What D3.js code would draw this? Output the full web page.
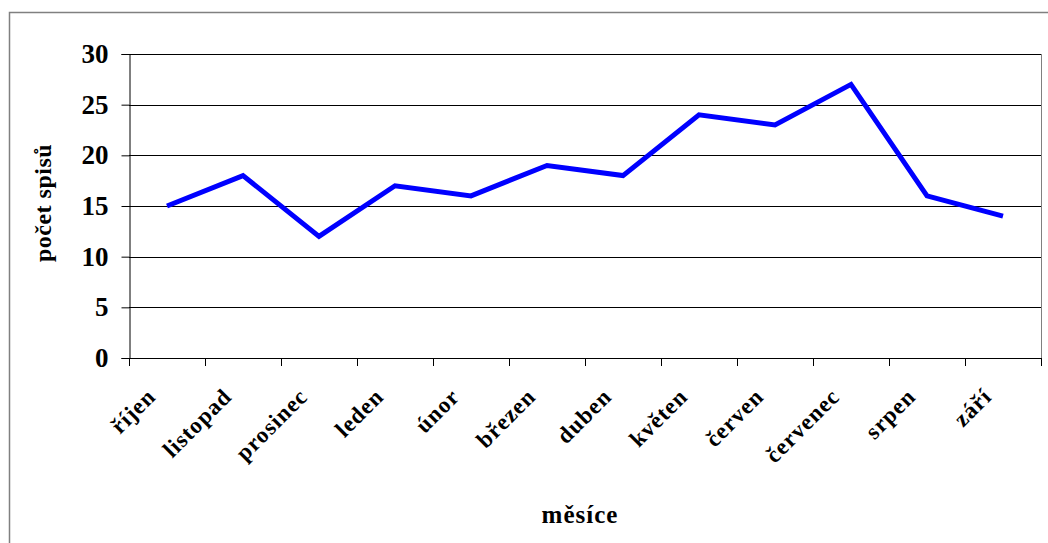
<!DOCTYPE html>
<html>
<head>
<meta charset="utf-8">
<script src="https://cdn.jsdelivr.net/npm/d3@7"></script>
<style>
  html, body { margin: 0; padding: 0; background: #fff; }
  svg { display: block; }
  text { font-family: "Liberation Serif", "Times New Roman", serif; font-weight: bold; fill: #000; }
</style>
</head>
<body>
<script>
// Monthly counts of case files
const months = ["říjen", "listopad", "prosinec", "leden", "únor", "březen",
                "duben", "květen", "červen", "červenec", "srpen", "září"];
const counts = [15, 18, 12, 17, 16, 19, 18, 24, 23, 27, 16, 14];
const yTicks = [0, 5, 10, 15, 20, 25, 30];

const W = 1048, H = 543;
const plot = { left: 129, right: 1041, top: 54, bottom: 358 };

const svg = d3.select("body").append("svg")
  .attr("width", W).attr("height", H);

// outer chart frame
svg.append("rect")
  .attr("x", 9.5).attr("y", 12.5)
  .attr("width", W + 20).attr("height", H + 20)
  .attr("fill", "#fff").attr("stroke", "#808080").attr("stroke-width", 1.5);

const x = d3.scaleBand().domain(months).range([plot.left, plot.right]);
const y = d3.scaleLinear().domain([0, 30]).range([plot.bottom, plot.top]);

// horizontal gridlines
svg.append("g").selectAll("line").data(yTicks.filter(d => d > 0)).join("line")
  .attr("x1", plot.left).attr("x2", plot.right)
  .attr("y1", d => Math.round(y(d)) + 0.5).attr("y2", d => Math.round(y(d)) + 0.5)
  .attr("stroke", "#000").attr("stroke-width", 1);

// right border of plot area
svg.append("line")
  .attr("x1", plot.right + 0.5).attr("x2", plot.right + 0.5)
  .attr("y1", plot.top).attr("y2", plot.bottom)
  .attr("stroke", "#808080").attr("stroke-width", 1);

// y axis
const yAxis = svg.append("g")
  .attr("transform", `translate(${plot.left + 0.5},0)`)
  .call(d3.axisLeft(y).tickValues(yTicks).tickSize(8).tickPadding(13));
yAxis.select(".domain").attr("stroke", "#000");
yAxis.selectAll(".tick line").attr("stroke", "#000");
yAxis.selectAll(".tick text")
  .style("font-family", "'Liberation Serif', serif")
  .style("font-weight", "bold").style("font-size", "27px").attr("fill", "#000");

// x axis with ticks between categories
const xTickPos = months.map(m => x(m)).concat([plot.right]);
const xAxisG = svg.append("g");
xAxisG.append("line")
  .attr("x1", plot.left).attr("x2", plot.right + 1)
  .attr("y1", plot.bottom + 0.5).attr("y2", plot.bottom + 0.5)
  .attr("stroke", "#000");
xAxisG.selectAll("line.tk").data(xTickPos).join("line").attr("class", "tk")
  .attr("x1", d => Math.round(d) + 0.5).attr("x2", d => Math.round(d) + 0.5)
  .attr("y1", plot.bottom).attr("y2", plot.bottom + 8)
  .attr("stroke", "#000");

// category labels rotated -45°
xAxisG.selectAll("text.cat").data(months).join("text").attr("class", "cat")
  .attr("transform", d => `translate(${x(d) + x.bandwidth() / 2 - 10},${plot.bottom + 40}) rotate(-45)`)
  .attr("text-anchor", "end")
  .style("font-size", "23px")
  .style("letter-spacing", "1px")
  .text(d => d);

// axis titles
svg.append("text")
  .attr("transform", `translate(51,${(plot.top + plot.bottom) / 2 - 3}) rotate(-90)`)
  .attr("text-anchor", "middle")
  .style("font-size", "24px")
  .style("letter-spacing", "0.5px")
  .text("počet spisů");

svg.append("text")
  .attr("x", 580).attr("y", 523)
  .attr("text-anchor", "middle")
  .style("font-size", "25px")
  .style("letter-spacing", "1px")
  .text("měsíce");

// data line
const line = d3.line()
  .x((d, i) => x(months[i]) + x.bandwidth() / 2)
  .y(d => y(d));
svg.append("path")
  .datum(counts)
  .attr("d", line)
  .attr("fill", "none")
  .attr("stroke", "#0000ff")
  .attr("stroke-width", 5)
  .attr("stroke-linejoin", "miter");
</script>
</body>
</html>
